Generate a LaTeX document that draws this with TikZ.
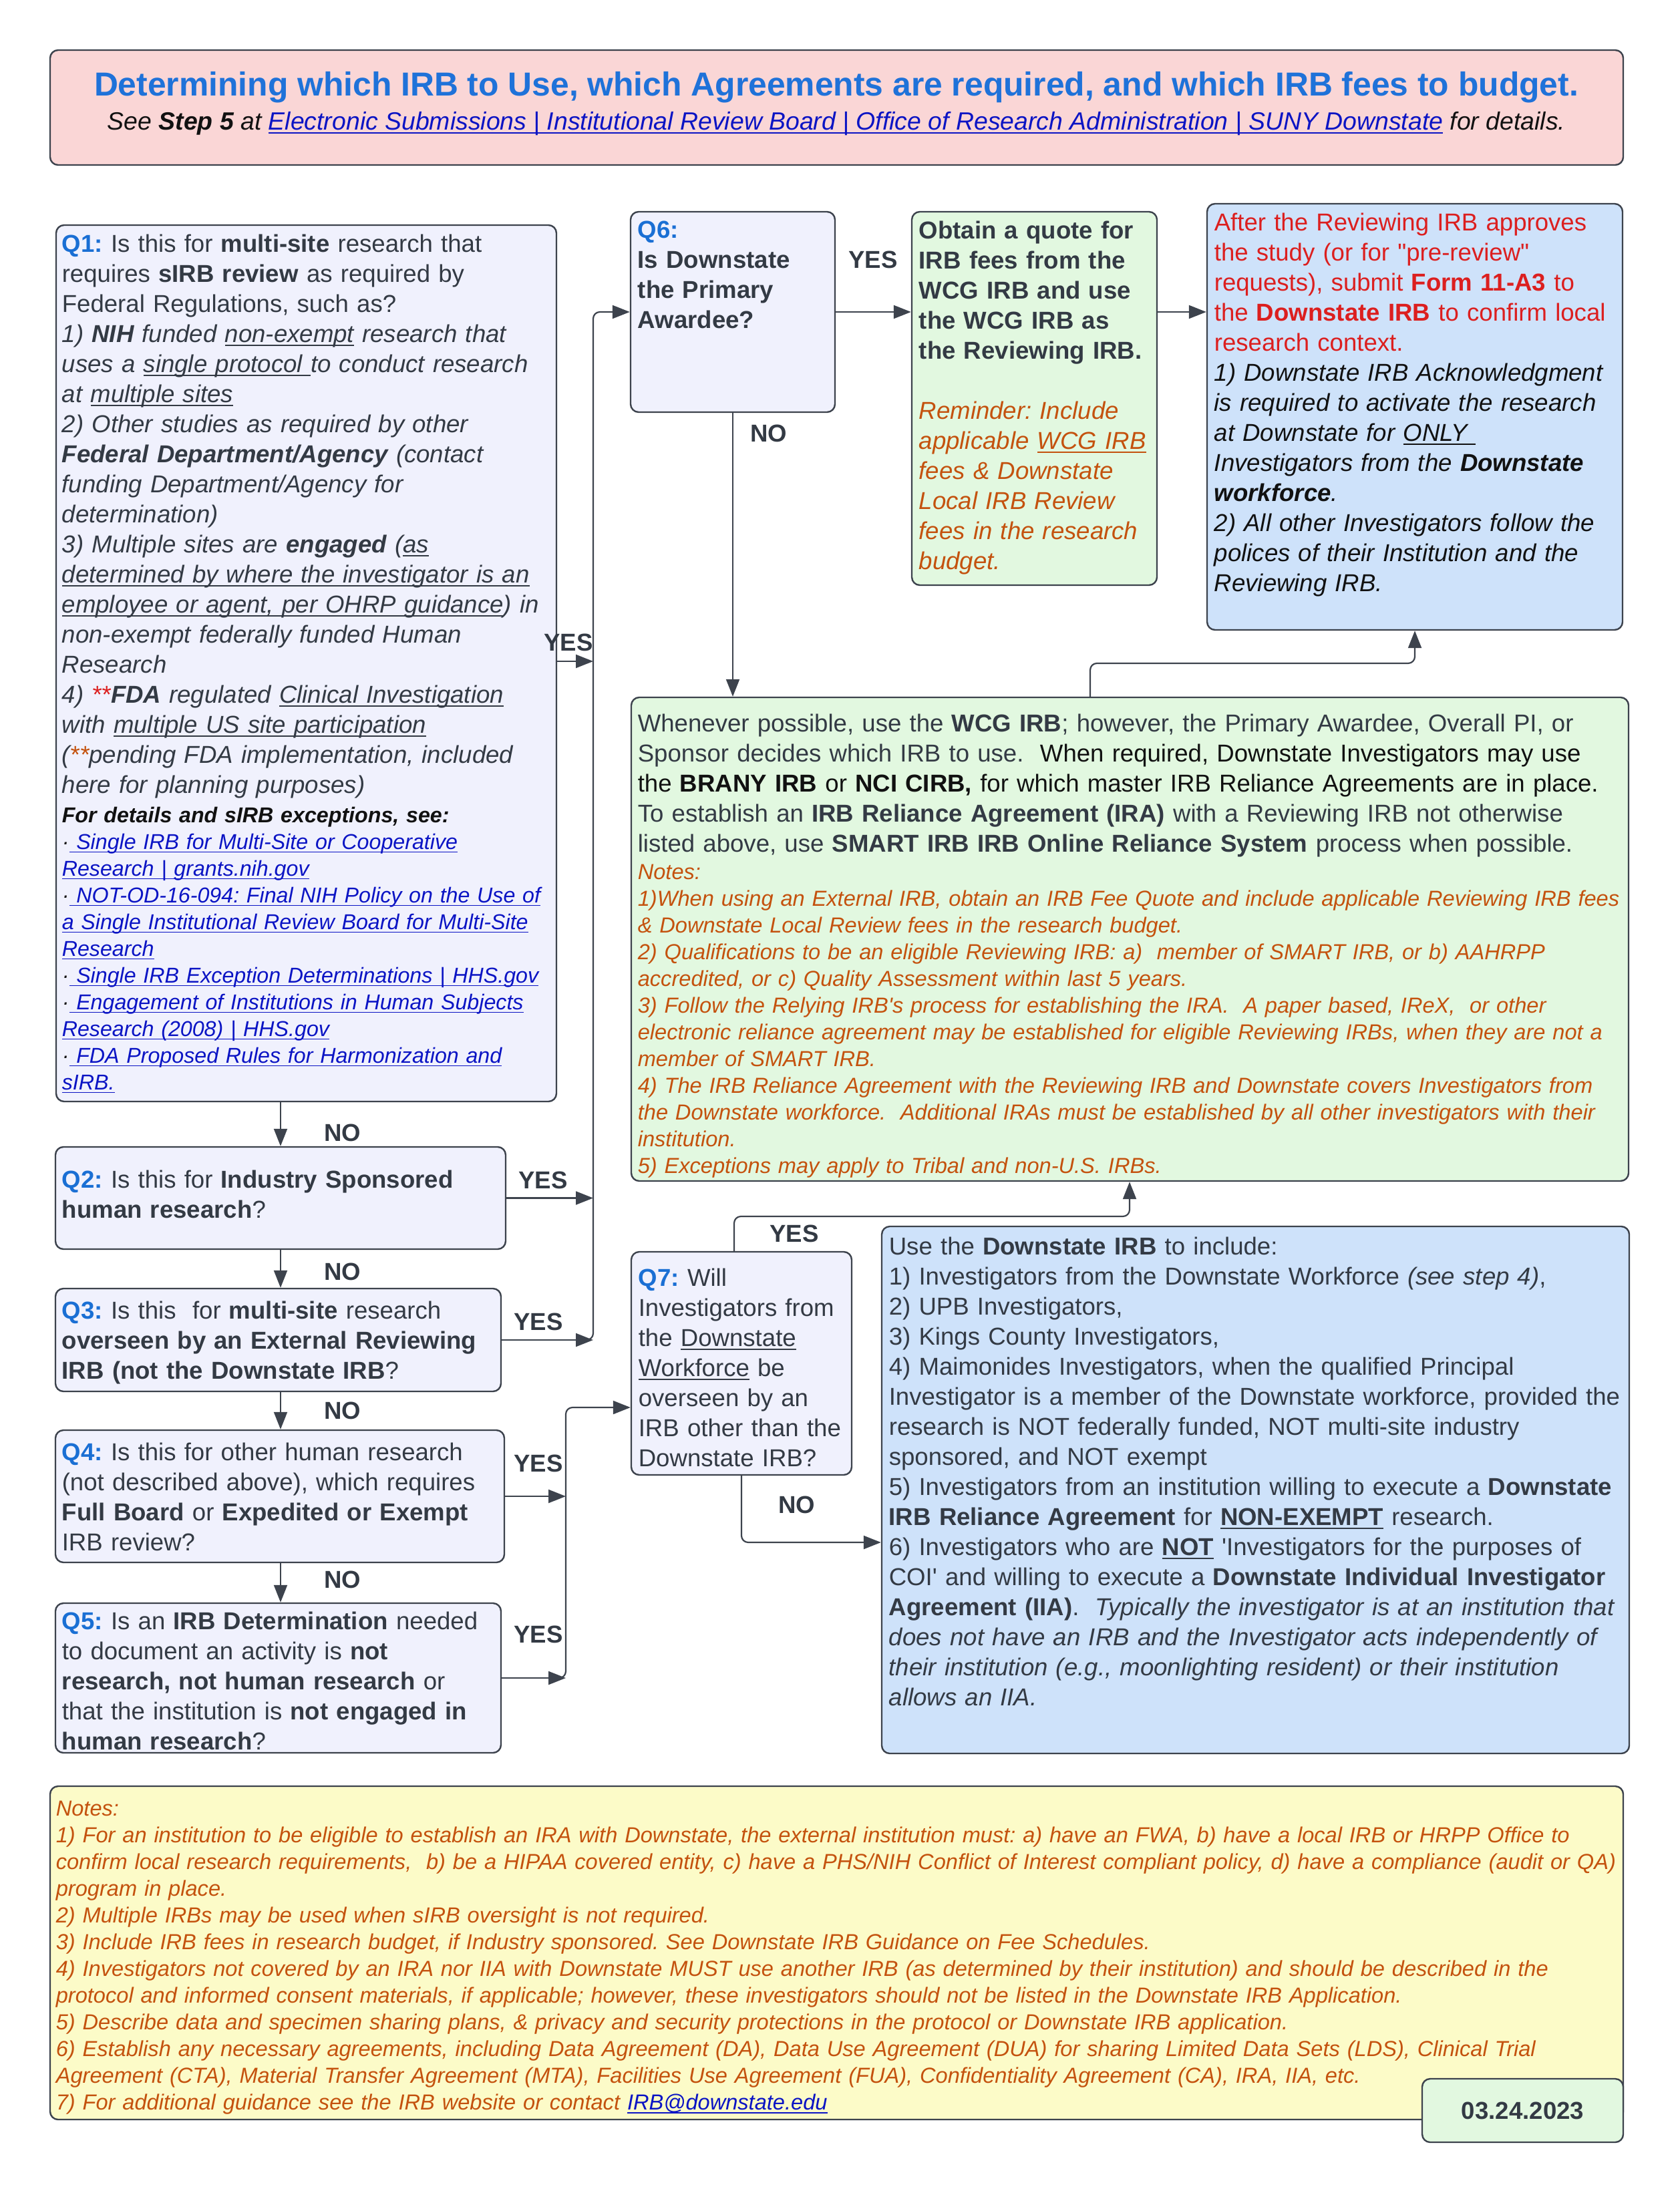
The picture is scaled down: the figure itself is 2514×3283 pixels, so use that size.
\documentclass[tikz,border=0pt]{standalone}
\usepackage{fontspec}
\setmainfont{Liberation Sans}[Ligatures=TeXOff]
\usetikzlibrary{arrows.meta,fit}
\frenchspacing
\definecolor{edge}{HTML}{3D434D}
\definecolor{txt}{HTML}{333A44}
\definecolor{blk}{HTML}{111111}
\definecolor{qblue}{HTML}{1A6FD4}
\definecolor{qfill}{HTML}{F0F1FD}
\definecolor{pinkfill}{HTML}{FAD6D6}
\definecolor{greenfill}{HTML}{E2F8E0}
\definecolor{bluefill}{HTML}{CEE2FA}
\definecolor{yellowfill}{HTML}{FCFBC8}
\definecolor{orng}{HTML}{C4520E}
\definecolor{redtxt}{HTML}{DC1F1F}
\definecolor{linkblue}{HTML}{0B14C4}
\definecolor{titleblue}{HTML}{1F72D9}
\newcommand\fsN{\fontsize{9.15}{11.25}\selectfont}
\newcommand\fsS{\fontsize{8.15}{10}\selectfont}
\newcommand\fsL{\fontsize{8.05}{10}\selectfont}
\newcommand\fsT{\fontsize{12.45}{14}\selectfont}
\newcommand\myul[1]{\leavevmode\setbox0\hbox{#1}\rlap{\rule[-1.3pt]{\wd0}{0.45pt}}\box0\relax}
\newcommand\ql[1]{\textcolor{qblue}{\textbf{#1}}}
\newcommand\lki[1]{\textcolor{linkblue}{\textit{\myul{#1}}}}
\newcommand\mkbox[6]{%
  \coordinate (#1-nw) at (#3,#4);
  \coordinate (#1-se) at (#5,#6);
  \node[#2, fit=(#1-nw)(#1-se)] (#1) {};}
\begin{document}
\begin{tikzpicture}[x=0.25pt,y=-0.25pt,
  bx/.style={draw=edge, line width=0.6pt, rounded corners=3pt, inner sep=0pt},
  tx/.style={anchor=north west, inner sep=0pt, align=left, text width=590pt, font=\fsN, text=txt},
  lab/.style={inner sep=0pt, font=\fsN\bfseries, text=txt},
  conn/.style={draw=edge, line width=0.55pt, -{Triangle[length=6.5pt,width=5pt]}},
  ]
\fill[white] (0,0) rectangle (2514,3283);
\useasboundingbox (0,0) rectangle (2514,3283);
% boxes
\mkbox{title}{bx, fill=pinkfill}{75}{75}{2430}{247}
\mkbox{q1}{bx, fill=qfill}{84}{337}{833}{1649}
\mkbox{q2}{bx, fill=qfill}{83}{1717}{757}{1870}
\mkbox{q3}{bx, fill=qfill}{83}{1929}{750}{2083}
\mkbox{q4}{bx, fill=qfill}{83}{2141}{755}{2339}
\mkbox{q5}{bx, fill=qfill}{83}{2400}{750}{2624}
\mkbox{q6}{bx, fill=qfill}{944}{317}{1250}{617}
\mkbox{wcg}{bx, fill=greenfill}{1365}{317}{1732}{876}
\mkbox{after}{bx, fill=bluefill}{1807}{305}{2429}{943}
\mkbox{gbox}{bx, fill=greenfill}{945}{1044}{2438}{1768}
\mkbox{q7}{bx, fill=qfill}{945}{1874}{1275}{2208}
\mkbox{ds}{bx, fill=bluefill}{1320}{1836}{2439}{2625}
\mkbox{notes}{bx, fill=yellowfill}{75}{2674}{2430}{3173}
\mkbox{date}{bx, fill=greenfill}{2129}{3112}{2430}{3207}
% title
\node[inner sep=0pt, font=\fsT\bfseries, text=titleblue] (ttl) at (1252,131) {Determining which IRB to Use, which Agreements are required, and which IRB fees to budget.};
\node[inner sep=0pt, font=\fontsize{9.35}{11}\selectfont\itshape, text=blk] (sub) at (1252,185) {See \textbf{Step 5} at \textcolor{linkblue}{\myul{Electronic Submissions | Institutional Review Board | Office of Research Administration | SUNY Downstate}} for details.};
% Q1
\node[tx] (q1t) at (92,350) {\ql{Q1:} Is this for \textbf{multi-site} research that\\
requires \textbf{sIRB review} as required by\\
Federal Regulations, such as?\\
\textit{1) \textbf{NIH} funded \myul{non-exempt} research that}\\
\textit{uses a \myul{single protocol }to conduct research}\\
\textit{at \myul{multiple sites}}\\
\textit{2) Other studies as required by other}\\
\textit{\textbf{Federal Department/Agency} (contact}\\
\textit{funding Department/Agency for}\\
\textit{determination)}\\
\textit{3) Multiple sites are \textbf{engaged} (\myul{as}}\\
\textit{\myul{determined by where the investigator is an}}\\
\textit{\myul{employee or agent, per OHRP guidance}) in}\\
\textit{non-exempt federally funded Human}\\
\textit{Research}\\
\textit{4) \textcolor{redtxt}{**}\textbf{FDA} regulated \myul{Clinical Investigation}}\\
\textit{with \myul{multiple US site participation}}\\
\textit{(\textcolor{orng}{**}pending FDA implementation, included}\\
\textit{here for planning purposes)}};
\node[tx, font=\fsL, text=blk] (q1l) at (92,1207) {\textbf{\textit{For details and sIRB exceptions, see:}}\\
\textit{·}\lki{ Single IRB for Multi-Site or Cooperative}\\
\lki{Research | grants.nih.gov}\\
\textit{·}\lki{ NOT-OD-16-094: Final NIH Policy on the Use of}\\
\lki{a Single Institutional Review Board for Multi-Site}\\
\lki{Research}\\
\textit{·}\lki{ Single IRB Exception Determinations | HHS.gov}\\
\textit{·}\lki{ Engagement of Institutions in Human Subjects}\\
\lki{Research (2008) | HHS.gov}\\
\textit{·}\lki{ FDA Proposed Rules for Harmonization and}\\
\lki{sIRB.}};
% Q2-Q5
\node[tx] (q2t) at (92,1751) {\ql{Q2:} Is this for \textbf{Industry Sponsored}\\
\textbf{human research}?};
\node[tx] (q3t) at (92,1947) {\ql{Q3:} Is this\ \ for \textbf{multi-site} research\\
\textbf{overseen by an External Reviewing}\\
\textbf{IRB (not the Downstate IRB}?};
\node[tx] (q4t) at (92,2159) {\ql{Q4:} Is this for other human research\\
(not described above), which requires\\
\textbf{Full Board} or \textbf{Expedited or Exempt}\\
IRB review?};
\node[tx] (q5t) at (92,2412) {\ql{Q5:} Is an \textbf{IRB Determination} needed\\
to document an activity is \textbf{not}\\
\textbf{research, not human research} or\\
that the institution is \textbf{not engaged in}\\
\textbf{human research}?};
% Q6
\node[tx, font=\fsN\bfseries] (q6t) at (954,330) {\ql{Q6:}\\
Is Downstate\\
the Primary\\
Awardee?};
% WCG
\node[tx] (wcgt) at (1375,330) {\textbf{Obtain a quote for}\\
\textbf{IRB fees from the}\\
\textbf{WCG IRB and use}\\
\textbf{the WCG IRB as}\\
\textbf{the Reviewing IRB.}\\[11.25pt]
\textcolor{orng}{\textit{Reminder: Include}}\\
\textcolor{orng}{\textit{applicable \myul{WCG IRB}}}\\
\textcolor{orng}{\textit{fees \& Downstate}}\\
\textcolor{orng}{\textit{Local IRB Review}}\\
\textcolor{orng}{\textit{fees in the research}}\\
\textcolor{orng}{\textit{budget.}}};
% After
\node[tx, text=redtxt] (aftert) at (1817,318) {After the Reviewing IRB approves\\
the study (or for "pre-review"\\
requests), submit \textbf{Form 11-A3} to\\
the \textbf{Downstate IRB} to confirm local\\
research context.\\
\textcolor{blk}{\textit{1) Downstate IRB Acknowledgment}}\\
\textcolor{blk}{\textit{is required to activate the research}}\\
\textcolor{blk}{\textit{at Downstate for \myul{ONLY }}}\\
\textcolor{blk}{\textit{Investigators from the \textbf{Downstate}}}\\
\textcolor{blk}{\textit{\textbf{workforce}.}}\\
\textcolor{blk}{\textit{2) All other Investigators follow the}}\\
\textcolor{blk}{\textit{polices of their Institution and the}}\\
\textcolor{blk}{\textit{Reviewing IRB.}}};
% big green
\node[tx] (gboxt) at (954,1068) {Whenever possible, use the \textbf{WCG IRB}; however, the Primary Awardee, Overall PI, or\\
Sponsor decides which IRB to use.\ \ \textcolor{blk}{When required, Downstate Investigators may use}\\
\textcolor{blk}{the \textbf{BRANY IRB} or \textbf{NCI CIRB,} for which master IRB Reliance Agreements are in place.}\\
To establish an \textbf{IRB Reliance Agreement (IRA)} with a Reviewing IRB not otherwise\\
listed above, use \textbf{SMART IRB IRB Online Reliance System} process when possible.};
\node[tx, font=\fsS\itshape, text=orng] (gnotes) at (954,1293.5) {Notes:\\
1)When using an External IRB, obtain an IRB Fee Quote and include applicable Reviewing IRB fees\\
\& Downstate Local Review fees in the research budget.\\
2) Qualifications to be an eligible Reviewing IRB: a)\ \ member of SMART IRB, or b) AAHRPP\\
accredited, or c) Quality Assessment within last 5 years.\\
3) Follow the Relying IRB's process for establishing the IRA.\ \ A paper based, IReX,\ \ or other\\
electronic reliance agreement may be established for eligible Reviewing IRBs, when they are not a\\
member of SMART IRB.\\
4) The IRB Reliance Agreement with the Reviewing IRB and Downstate covers Investigators from\\
the Downstate workforce.\ \ Additional IRAs must be established by all other investigators with their\\
institution.\\
5) Exceptions may apply to Tribal and non-U.S. IRBs.};
% Q7
\node[tx] (q7t) at (955,1898) {\ql{Q7:} Will\\
Investigators from\\
the \myul{Downstate}\\
\myul{Workforce} be\\
overseen by an\\
IRB other than the\\
Downstate IRB?};
% Downstate IRB box
\node[tx] (dst) at (1330,1851) {Use the \textbf{Downstate IRB} to include:\\
1) Investigators from the Downstate Workforce \textit{(see step 4)},\\
2) UPB Investigators,\\
3) Kings County Investigators,\\
4) Maimonides Investigators, when the qualified Principal\\
Investigator is a member of the Downstate workforce, provided the\\
research is NOT federally funded, NOT multi-site industry\\
sponsored, and NOT exempt\\
5) Investigators from an institution willing to execute a \textbf{Downstate}\\
\textbf{IRB Reliance Agreement} for \textbf{\myul{NON-EXEMPT}} research.\\
6) Investigators who are \textbf{\myul{NOT}} 'Investigators for the purposes of\\
COI' and willing to execute a \textbf{Downstate Individual Investigator}\\
\textbf{Agreement (IIA)}.\ \ \textit{Typically the investigator is at an institution that}\\
\textit{does not have an IRB and the Investigator acts independently of}\\
\textit{their institution (e.g., moonlighting resident) or their institution}\\
\textit{allows an IIA.}};
% bottom notes
\node[tx, font=\fsS\itshape, text=orng] (notest) at (83,2695.5) {Notes:\\
1) For an institution to be eligible to establish an IRA with Downstate, the external institution must: a) have an FWA, b) have a local IRB or HRPP Office to\\
confirm local research requirements,\ \ b) be a HIPAA covered entity, c) have a PHS/NIH Conflict of Interest compliant policy, d) have a compliance (audit or QA)\\
program in place.\\
2) Multiple IRBs may be used when sIRB oversight is not required.\\
3) Include IRB fees in research budget, if Industry sponsored. See Downstate IRB Guidance on Fee Schedules.\\
4) Investigators not covered by an IRA nor IIA with Downstate MUST use another IRB (as determined by their institution) and should be described in the\\
protocol and informed consent materials, if applicable; however, these investigators should not be listed in the Downstate IRB Application.\\
5) Describe data and specimen sharing plans, \& privacy and security protections in the protocol or Downstate IRB application.\\
6) Establish any necessary agreements, including Data Agreement (DA), Data Use Agreement (DUA) for sharing Limited Data Sets (LDS), Clinical Trial\\
Agreement (CTA), Material Transfer Agreement (MTA), Facilities Use Agreement (FUA), Confidentiality Agreement (CA), IRA, IIA, etc.\\
7) For additional guidance see the IRB website or contact \textcolor{linkblue}{\myul{IRB@downstate.edu}}};
\node[lab] (datet) at (date) {03.24.2023};
% helper coordinates
\coordinate (v1) at (420,0);
\coordinate (t1) at (888,0);
\coordinate (t2) at (847,0);
\coordinate (y990) at (0,990);
\coordinate (y2107) at (0,2107);
\coordinate (y993) at (0,993);
\coordinate (y1821) at (0,1821);
\coordinate (y2309) at (0,2309);
\coordinate (x1632) at (1632,0);
\coordinate (x1099) at (1099,0);
\coordinate (x1691) at (1691,0);
% connectors
\draw[conn] (q1.south -| v1) -- (q2.north -| v1);
\draw[conn] (q2.south -| v1) -- (q3.north -| v1);
\draw[conn] (q3.south -| v1) -- (q4.north -| v1);
\draw[conn] (q4.south -| v1) -- (q5.north -| v1);
\draw[conn] (q1.east |- y990) -- (t1 |- y990);
\draw[conn] (q2.east) -- (q2.east -| t1);
\draw[conn, rounded corners=2.5pt] ([xshift=-6pt]q3.east -| t1) -- (q3.east -| t1) -- (q6.west -| t1) -- (q6.west);
\draw[conn] (q3.east) -- (q3.east -| t1);
\draw[conn] (q4.east) -- (q4.east -| t2);
\draw[conn, rounded corners=2.5pt] ([xshift=-6pt]q5.east -| t2) -- (q5.east -| t2) -- (t2 |- y2107) -- (q7.west |- y2107);
\draw[conn] (q5.east) -- (q5.east -| t2);
\draw[conn] (q6.east) -- (q6.east -| wcg.west);
\draw[conn] (wcg.east |- q6.east) -- (after.west |- q6.east);
\draw[conn] (q6.south) -- (q6.south |- gbox.north);
\draw[conn, rounded corners=2.5pt] (gbox.north -| x1632) -- (x1632 |- y993) -- (after.south |- y993) -- (after.south);
\draw[conn, rounded corners=2.5pt] (q7.north -| x1099) -- (x1099 |- y1821) -- (x1691 |- y1821) -- (gbox.south -| x1691);
\draw[conn, rounded corners=2.5pt] (q7.south) -- (q7.south |- y2309) -- (ds.west |- y2309);
% labels
\node[lab] (l1y) at (851,962) {YES};
\node[lab] (l1n) at (513,1696) {NO};
\node[lab] (l2y) at (813,1767) {YES};
\node[lab] (l2n) at (513,1904) {NO};
\node[lab] (l3y) at (806,1979) {YES};
\node[lab] (l3n) at (513,2112) {NO};
\node[lab] (l4y) at (806,2191) {YES};
\node[lab] (l4n) at (513,2365) {NO};
\node[lab] (l5y) at (806,2447) {YES};
\node[lab] (l6y) at (1307,389) {YES};
\node[lab] (l6n) at (1151,649) {NO};
\node[lab] (l7y) at (1189,1847) {YES};
\node[lab] (l7n) at (1193,2253) {NO};
\end{tikzpicture}
\end{document}
